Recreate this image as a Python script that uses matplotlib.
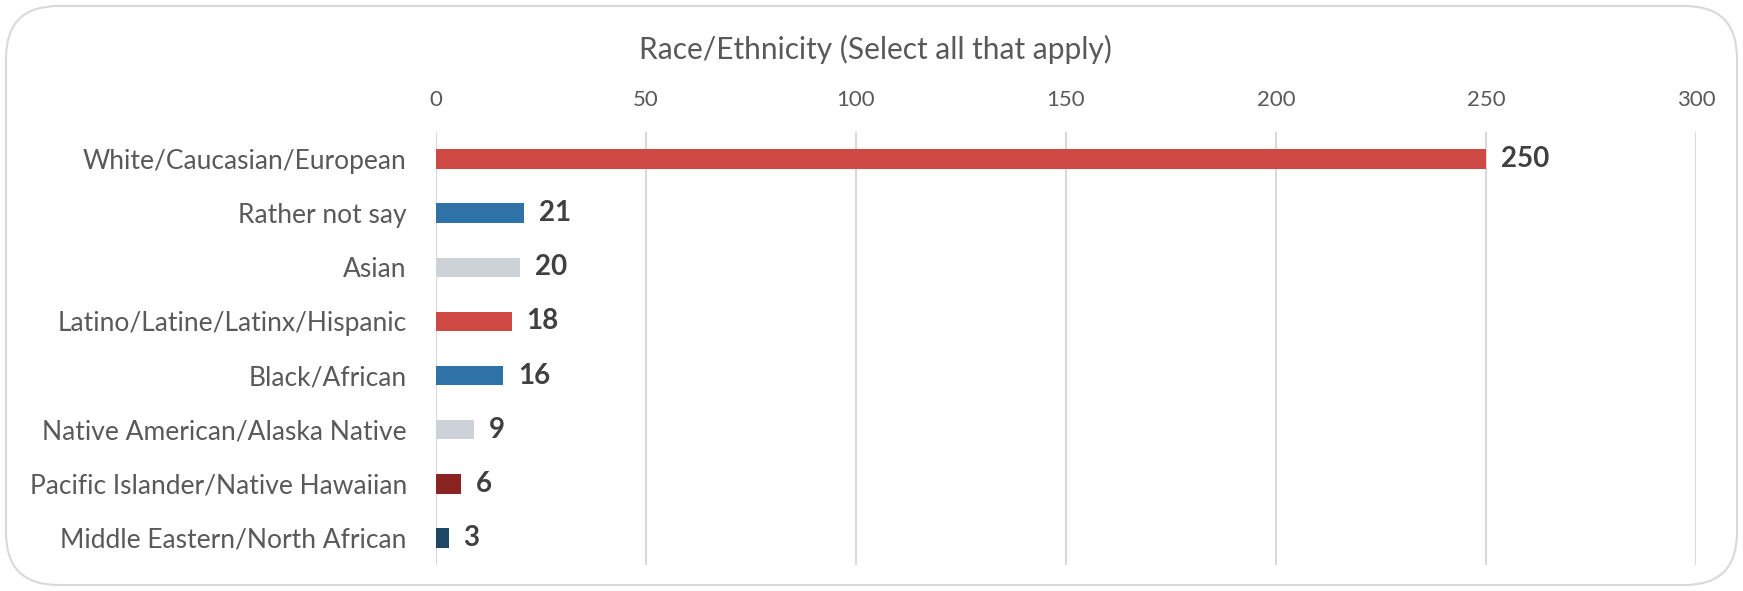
import matplotlib
matplotlib.use("Agg")
import matplotlib.pyplot as plt
from matplotlib.patches import FancyBboxPatch

categories = ["White/Caucasian/European", "Rather not say", "Asian",
              "Latino/Latine/Latinx/Hispanic", "Black/African",
              "Native American/Alaska Native", "Pacific Islander/Native Hawaiian",
              "Middle Eastern/North African"]
values = [250, 21, 20, 18, 16, 9, 6, 3]
bar_colors = ["#D04A45", "#2E72A8", "#CDD1D8", "#D04A45", "#2E72A8",
              "#CDD1D8", "#8A2423", "#1F4767"]
xticks = [0, 50, 100, 150, 200, 250, 300]
title = "Race/Ethnicity (Select all that apply)"

plt.rcParams['font.family'] = ['Lato', 'DejaVu Sans']

fig = plt.figure(figsize=(17.43, 5.91), dpi=100)
fig.patch.set_facecolor("white")

border = FancyBboxPatch((6 / 1743, 6 / 591), 1731 / 1743, 579 / 591,
                        boxstyle="round,pad=0,rounding_size=0.03",
                        transform=fig.transFigure, facecolor="none",
                        edgecolor="#D9D9D9", linewidth=1.5,
                        mutation_aspect=1743 / 591, zorder=-1)
fig.patches.append(border)

ax = fig.add_axes([436 / 1743, 26 / 591, 1260 / 1743, 433 / 591])
ypos = list(range(len(categories)))
ax.barh(ypos, values, height=0.36, color=bar_colors, zorder=3)
ax.set_xlim(0, 300)
ax.set_ylim(len(categories) - 0.5, -0.5)
ax.set_xticks(xticks)
ax.xaxis.tick_top()
ax.tick_params(axis='x', length=0, pad=16, labelsize=16, labelcolor="#595959")
ax.tick_params(axis='y', length=0, pad=21, labelsize=19, labelcolor="#595959")
ax.set_yticks(ypos)
ax.set_yticklabels(categories)
ax.grid(axis='x', color="#D9D9D9", linewidth=1.5, zorder=0)
for s in ax.spines.values():
    s.set_visible(False)
ax.set_facecolor("none")

for y, v in zip(ypos, values):
    ax.text(v + 3.5, y, str(v), va='center', ha='left', fontsize=20,
            fontweight='bold', color="#404040", zorder=4)

fig.text(875 / 1743, 1 - 49 / 591, title,
         ha='center', va='center', fontsize=21.5, color="#595959")

fig.savefig("out.png", dpi=100, facecolor="white")
